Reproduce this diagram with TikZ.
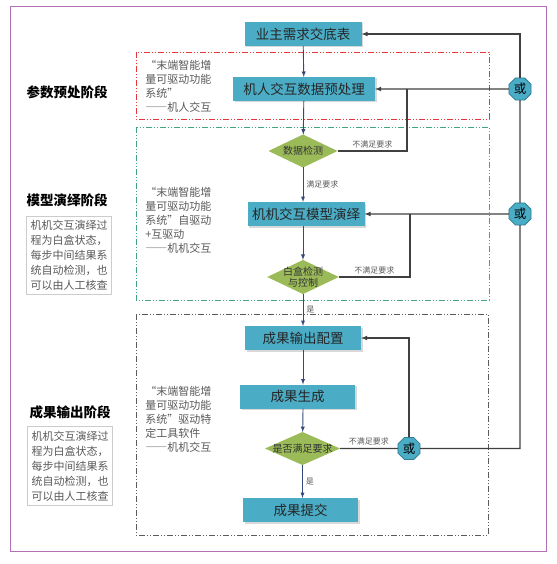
\documentclass[tikz,border=0pt]{standalone}
\usepackage{fontspec}
\setmainfont{Noto Sans CJK SC}
\newfontfamily\fwfont[RawFeature=+fwid]{Noto Sans CJK SC}
\usetikzlibrary{shapes.geometric, arrows, shapes, shadows, positioning}

\definecolor{boxblue}{HTML}{4BACC6}
\definecolor{orline}{HTML}{2E7D93}
\definecolor{dmdgreen}{HTML}{9BBB59}
\definecolor{linkblue}{HTML}{34497A}
\definecolor{backgray}{HTML}{404040}
\definecolor{framepurple}{HTML}{B171B4}
\definecolor{phasered}{HTML}{E2383B}
\definecolor{phasegreen}{HTML}{3FA57A}
\definecolor{phasegray}{HTML}{5A5A5A}
\definecolor{notegray}{HTML}{595959}

\begin{document}
\begin{tikzpicture}[x=1pt,y=-1pt,every node/.style={outer sep=0pt}]

\tikzstyle{stepbox}=[fill=boxblue, text=black!85, minimum height=24pt, inner sep=0pt, font=\fontsize{13.5}{16}\selectfont, drop shadow={shadow xshift=1.5pt, shadow yshift=-1.5pt, fill=black!30, opacity=0.5}]
\tikzstyle{decision}=[diamond, fill=dmdgreen, aspect=2.1, inner xsep=-6pt, inner ysep=0pt, minimum width=69pt, minimum height=33pt, align=center, font=\fontsize{10}{11.5}\selectfont, text=black!80]
\tikzstyle{ornode}=[regular polygon, regular polygon sides=8, fill=boxblue, draw=orline, thick, minimum size=24pt, inner sep=0pt, font=\fontsize{12.5}{12.5}\selectfont]
\tikzstyle{link}=[-latex, linkblue, line width=0.9pt]
\tikzstyle{back}=[backgray, line width=1.1pt]
\tikzstyle{phase}=[line width=0.9pt, dash pattern=on 6pt off 2pt on 1pt off 2pt on 1pt off 2pt]
\tikzstyle{stage}=[font=\fontsize{13.5}{16}\selectfont\bfseries]
\tikzstyle{note}=[align=left, anchor=west, text=notegray, font=\fwfont\fontsize{11}{14}\selectfont]
\tikzstyle{sidebox}=[draw=black!20, line width=1.2pt, align=left, text=notegray, inner sep=4pt, font=\fontsize{11}{15}\selectfont]
\tikzstyle{tag}=[font=\fontsize{8}{9}\selectfont, text=notegray]

\useasboundingbox (0,0) rectangle (556,564);
\draw[framepurple, line width=1pt] (10,7) rectangle (546,551);

\draw[phase, phasered] (136,52) rectangle (489,119);
\draw[phase, phasegreen] (136,127) rectangle (489,300);
\draw[phase, phasegray] (136,314) rectangle (488,535);

% stages
\node (stprep) [stage] at (67,92) {参数预处阶段};
\node (stmodel) [stage] at (67,200) {模型演绎阶段};
\node (stout) [stage] at (70,412) {成果输出阶段};
\node (sidemodel) [sidebox] at (69,255.5) {机机交互演绎过\\程为白盒状态，\\每步中间结果系\\统自动检测，也\\可以由人工核查};
\node (sideout) [sidebox] at (70,466) {机机交互演绎过\\程为白盒状态，\\每步中间结果系\\统自动检测，也\\可以由人工核查};

\node (noteprep) [note] at (142,86) {“末端智能增\\量可驱动功能\\系统”\\——机人交互};
\node (notemodel) [note] at (142,220) {“末端智能增\\量可驱动功能\\系统”自驱动\\{\normalfont +}互驱动\\——机机交互};
\node (noteout) [note] at (142,419) {“末端智能增\\量可驱动功能\\系统”驱动特\\定工具软件\\——机机交互};

% main column
\node (brief) [stepbox, minimum width=117pt] at (303,34) {业主需求交底表};
\node (prep) [stepbox, minimum width=142pt] at (304,89) {机人交互数据预处理};
\node (datachk) [decision] at (303,151) {数据检测};
\node (model) [stepbox, minimum width=117pt] at (306,214) {机机交互模型演绎};
\node (boxchk) [decision] at (303,277) {白盒检测\\与控制};
\node (outcfg) [stepbox, minimum width=116pt] at (303,338) {成果输出配置};
\node (outgen) [stepbox, minimum width=115pt] at (297.5,396.5) {成果生成};
\node (reschk) [decision, minimum width=75pt] at (302.5,448.5) {是否满足要求};
\node (submit) [stepbox, minimum width=115pt] at (300.5,510) {成果提交};

\node (or1) [ornode] at (520,89) {或};
\node (or2) [ornode] at (520,214) {或};
\node (or3) [ornode] at (409,448.5) {或};
\coordinate (join1) at (407,89);
\coordinate (join2) at (410,214);

\draw[link] (brief) -- (prep);
\draw[link] (prep) -- (datachk);
\draw[link] (datachk) -- node[tag, right]{满足要求} (datachk |- model.north);
\draw[link] (datachk |- model.south) -- (boxchk);
\draw[link] (boxchk) -- node[tag, right]{是} (outcfg);
\draw[link] (outcfg) -- (outcfg |- outgen.north);
\draw[link] (outcfg |- outgen.south) -- (reschk);
\draw[link] (reschk) -- node[tag, right]{是} (reschk |- submit.north);

% feedback
\draw[back] (datachk) -| node[tag, above, pos=0.25]{不满足要求} (join1);
\draw[back] (boxchk) -| node[tag, above, pos=0.25]{不满足要求} (join2);
\draw[back] (reschk) -- node[tag, above]{不满足要求} (or3);
\draw[back] (or3) -- (or3 -| or1) -- (or2);
\draw[back] (or2) -- (or1);
\draw[back, -latex] (or1) |- (brief);
\draw[back, -latex] (or1) -- (prep);
\draw[back, -latex] (or2) -- (model);
\draw[back, -latex] (or3) |- (outcfg);

\end{tikzpicture}
\end{document}
